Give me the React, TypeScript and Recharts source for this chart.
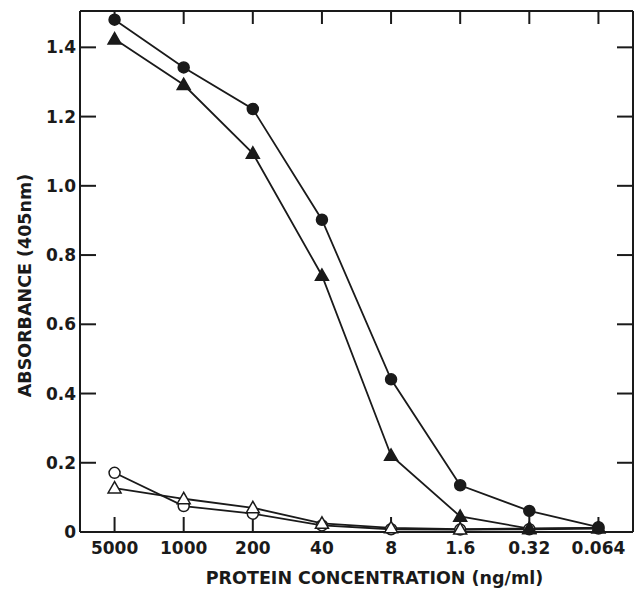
import React from "react";
import { LineChart, Line, XAxis, YAxis, Label } from "recharts";

// protein concentration categories (ng/ml)
const concentrations = ["5000", "1000", "200", "40", "8", "1.6", "0.32", "0.064"];

// absorbance at 405 nm for each curve
const filledCircle = [1.48, 1.342, 1.222, 0.902, 0.441, 0.135, 0.061, 0.014];
const filledTriangle = [1.424, 1.292, 1.094, 0.741, 0.221, 0.045, 0.01, 0.012];
const openCircle = [0.171, 0.075, 0.053, 0.019, 0.008, 0.007, 0.008, 0.01];
const openTriangle = [0.127, 0.096, 0.07, 0.025, 0.012, 0.008, 0.01, 0.012];

const yTicks = [0, 0.2, 0.4, 0.6, 0.8, 1.0, 1.2, 1.4];

const data = concentrations.map((c, i) => ({
  conc: c,
  fc: filledCircle[i],
  ft: filledTriangle[i],
  oc: openCircle[i],
  ot: openTriangle[i],
}));

const FONT = "'DejaVu Sans', sans-serif";
const INK = "#1a1a1a";
const Y_DOMAIN = [0, 1.505];

const circleDot = (filled: boolean) => (props: any) => {
  const { cx, cy, index } = props;
  return (
    <circle
      key={index}
      cx={cx}
      cy={cy}
      r={5.5}
      fill={filled ? INK : "#fff"}
      stroke={INK}
      strokeWidth={1.5}
    />
  );
};

const triangleDot = (filled: boolean) => (props: any) => {
  const { cx, cy, index } = props;
  const s = 6.5;
  const pts = `${cx},${cy - s} ${cx - s},${cy + s * 0.75} ${cx + s},${cy + s * 0.75}`;
  return (
    <polygon
      key={index}
      points={pts}
      fill={filled ? INK : "#fff"}
      stroke={INK}
      strokeWidth={1.5}
    />
  );
};

// empty tick label, keeps the tick lines of the frame axes
const NoLabel = (props: any) => <g key={props.index} />;

const tickStyle = { fill: INK, fontSize: 17, fontWeight: 700, fontFamily: FONT };
const titleStyle = { fill: INK, fontSize: 17.5, fontWeight: 700, fontFamily: FONT };
const axisStroke = { stroke: INK, strokeWidth: 2 };

const App = () => {
  return (
    <div style={{ position: "absolute", left: 0, top: 0, background: "#fff" }}>
      <LineChart
        width={644}
        height={589}
        data={data}
        margin={{ top: 10, right: 10, left: 0, bottom: 0 }}
      >
        <XAxis
          xAxisId="bottom"
          dataKey="conc"
          scale="band"
          height={57}
          tick={tickStyle}
          tickSize={-15}
          tickMargin={25}
          axisLine={axisStroke}
          tickLine={axisStroke}
          interval={0}
        >
          <Label
            value="PROTEIN CONCENTRATION (ng/ml)"
            position="insideBottom"
            offset={5}
            dx={18}
            style={titleStyle}
          />
        </XAxis>
        <XAxis
          xAxisId="top"
          dataKey="conc"
          scale="band"
          orientation="top"
          height={1}
          tick={NoLabel}
          tickSize={-13}
          axisLine={axisStroke}
          tickLine={axisStroke}
          interval={0}
        />
        <YAxis
          yAxisId="left"
          width={80}
          domain={Y_DOMAIN}
          ticks={yTicks}
          tickFormatter={(v: number) => (v === 0 ? "0" : v.toFixed(1))}
          tick={tickStyle}
          tickSize={-16}
          tickMargin={20}
          axisLine={axisStroke}
          tickLine={axisStroke}
        >
          <Label
            content={(p: any) => {
              const vb = p.viewBox;
              const x = vb.x + 25;
              const y = vb.y + vb.height / 2 + 14;
              return (
                <text
                  x={x}
                  y={y}
                  transform={`rotate(-90, ${x}, ${y})`}
                  textAnchor="middle"
                  dominantBaseline="central"
                  style={titleStyle}
                >
                  ABSORBANCE (405nm)
                </text>
              );
            }}
          />
        </YAxis>
        <YAxis
          yAxisId="right"
          orientation="right"
          width={1}
          domain={Y_DOMAIN}
          ticks={yTicks}
          tick={NoLabel}
          tickSize={-16}
          axisLine={axisStroke}
          tickLine={axisStroke}
        />
        <Line
          xAxisId="top"
          yAxisId="right"
          dataKey="oc"
          stroke={INK}
          strokeWidth={1.8}
          dot={circleDot(false)}
          isAnimationActive={false}
        />
        <Line
          xAxisId="bottom"
          yAxisId="left"
          dataKey="ot"
          stroke={INK}
          strokeWidth={1.8}
          dot={triangleDot(false)}
          isAnimationActive={false}
        />
        <Line
          xAxisId="bottom"
          yAxisId="left"
          dataKey="ft"
          stroke={INK}
          strokeWidth={1.8}
          dot={triangleDot(true)}
          isAnimationActive={false}
        />
        <Line
          xAxisId="bottom"
          yAxisId="left"
          dataKey="fc"
          stroke={INK}
          strokeWidth={1.8}
          dot={circleDot(true)}
          isAnimationActive={false}
        />
      </LineChart>
    </div>
  );
};

export default App;
